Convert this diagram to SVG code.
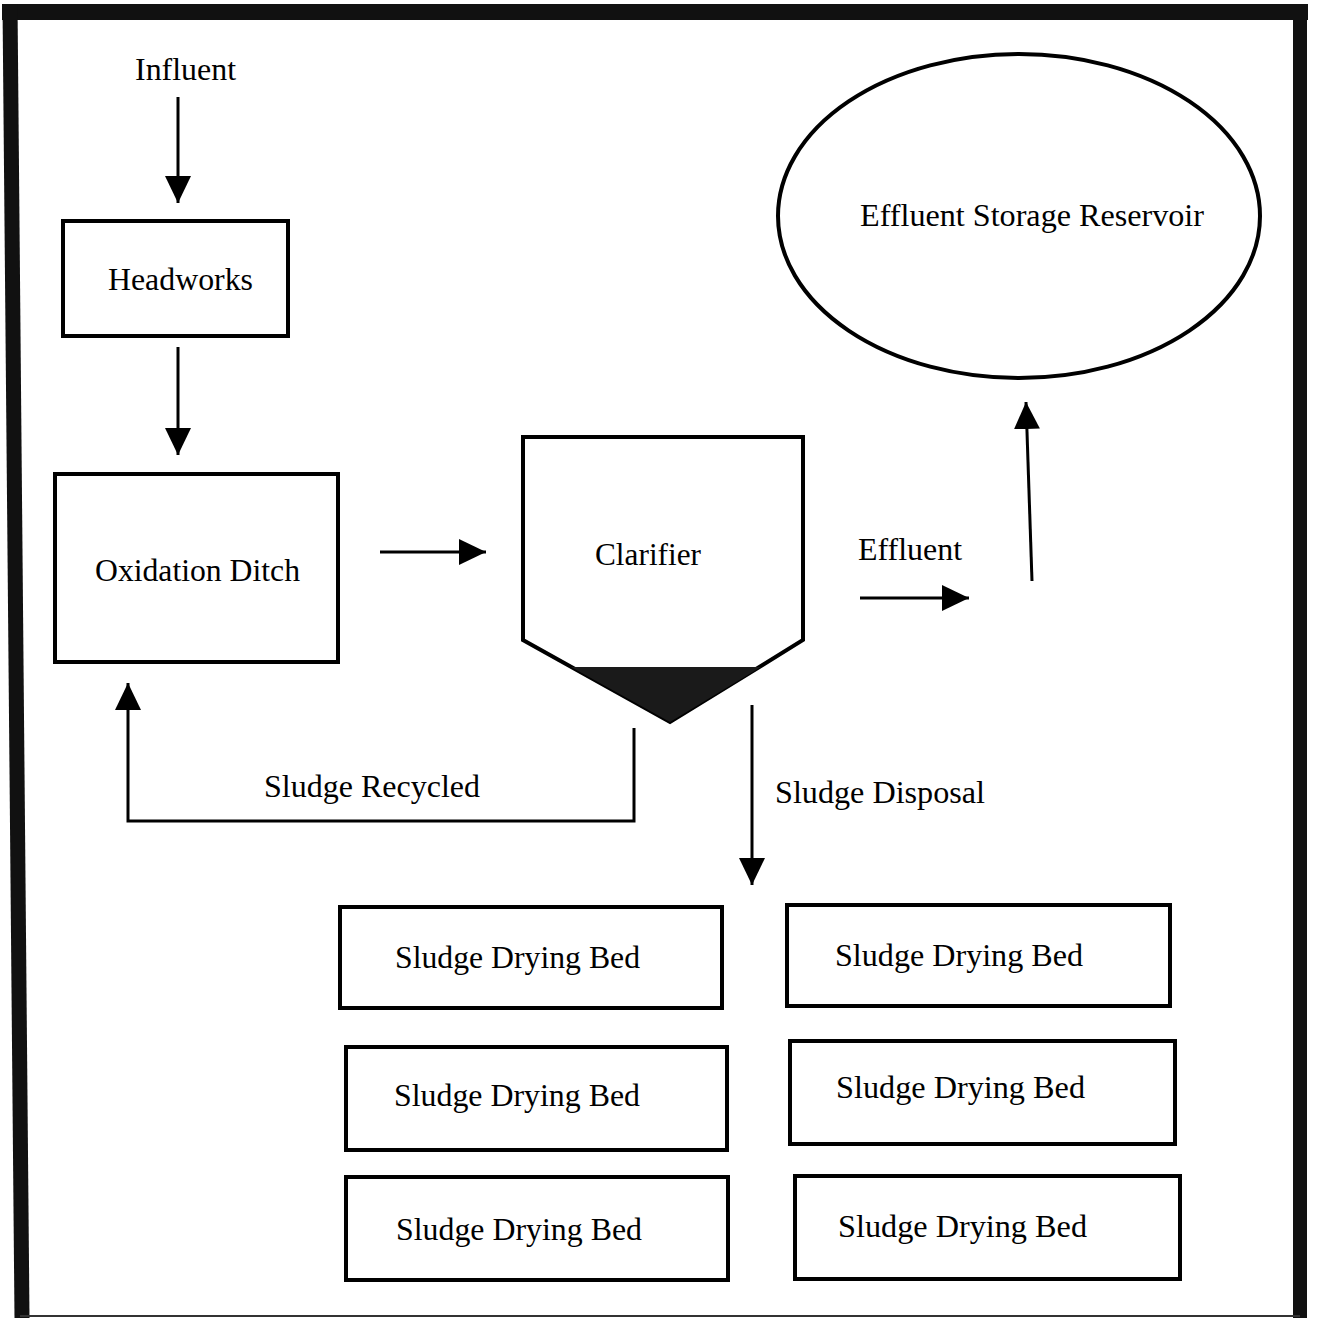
<svg xmlns="http://www.w3.org/2000/svg" width="1328" height="1318" viewBox="0 0 1328 1318">
<defs>
<marker id="ah" markerUnits="userSpaceOnUse" markerWidth="27" markerHeight="26" refX="27" refY="13" orient="auto">
<path d="M0,0 L27,13 L0,26 z" fill="#000"/>
</marker>
<style>
.box{fill:#fff;stroke:#000;stroke-width:4}
.t{font-family:"Liberation Serif","Times New Roman",serif;font-size:32px;fill:#000}
.c{fill:none;stroke:#000;stroke-width:3}
</style>
</defs>
<rect width="1328" height="1318" fill="#fff"/>
<g id="frame">
<path d="M2,12 H1308" stroke="#111" stroke-width="16" fill="none"/>
<path d="M10,4 L22,1318" stroke="#111" stroke-width="15" fill="none"/>
<path d="M1300,4 V1318" stroke="#111" stroke-width="14" fill="none"/>
<path d="M20,1316 H1300" stroke="#333" stroke-width="2" fill="none"/>
</g>
<g id="connectors">
<path class="c" d="M178,97 V203" marker-end="url(#ah)"/>
<path class="c" d="M178,347 V455" marker-end="url(#ah)"/>
<path class="c" d="M380,552 H486" marker-end="url(#ah)"/>
<path class="c" d="M860,598 H969" marker-end="url(#ah)"/>
<path class="c" d="M1032,581 L1026,402" marker-end="url(#ah)"/>
<path class="c" d="M752,705 V885" marker-end="url(#ah)"/>
<path class="c" d="M634,728 V821 H128 V683" marker-end="url(#ah)"/>
</g>
<g id="influent">
<text class="t" x="135" y="80" textLength="101" lengthAdjust="spacingAndGlyphs">Influent</text>
</g>
<g id="headworks">
<rect class="box" x="63" y="221" width="225" height="115"/>
<text class="t" x="108" y="290" textLength="145" lengthAdjust="spacingAndGlyphs">Headworks</text>
</g>
<g id="oxidation-ditch">
<rect class="box" x="55" y="474" width="283" height="188"/>
<text class="t" x="95" y="581" textLength="205" lengthAdjust="spacingAndGlyphs">Oxidation Ditch</text>
</g>
<g id="clarifier">
<path class="box" d="M523,437 H803 V640 L670,722 L523,640 Z"/>
<path d="M571,667 H761 L670,722 Z" fill="#1a1a1a"/>
<text class="t" x="595" y="565" textLength="106" lengthAdjust="spacingAndGlyphs">Clarifier</text>
</g>
<g id="effluent-label">
<text class="t" x="858" y="560" textLength="104" lengthAdjust="spacingAndGlyphs">Effluent</text>
</g>
<g id="reservoir">
<ellipse cx="1019" cy="216" rx="241" ry="162" fill="#fff" stroke="#000" stroke-width="4"/>
<text class="t" x="860" y="226" textLength="344" lengthAdjust="spacingAndGlyphs">Effluent Storage Reservoir</text>
</g>
<g id="sludge-recycled-label">
<text class="t" x="264" y="797" textLength="216" lengthAdjust="spacingAndGlyphs">Sludge Recycled</text>
</g>
<g id="sludge-disposal-label">
<text class="t" x="775" y="803" textLength="210" lengthAdjust="spacingAndGlyphs">Sludge Disposal</text>
</g>
<g id="bed1">
<rect class="box" x="340" y="907" width="382" height="101"/>
<text class="t" x="395" y="968" textLength="245" lengthAdjust="spacingAndGlyphs">Sludge Drying Bed</text>
</g>
<g id="bed2">
<rect class="box" x="787" y="905" width="383" height="101"/>
<text class="t" x="835" y="966" textLength="248" lengthAdjust="spacingAndGlyphs">Sludge Drying Bed</text>
</g>
<g id="bed3">
<rect class="box" x="346" y="1047" width="381" height="103"/>
<text class="t" x="394" y="1106" textLength="246" lengthAdjust="spacingAndGlyphs">Sludge Drying Bed</text>
</g>
<g id="bed4">
<rect class="box" x="790" y="1041" width="385" height="103"/>
<text class="t" x="836" y="1098" textLength="249" lengthAdjust="spacingAndGlyphs">Sludge Drying Bed</text>
</g>
<g id="bed5">
<rect class="box" x="346" y="1177" width="382" height="103"/>
<text class="t" x="396" y="1240" textLength="246" lengthAdjust="spacingAndGlyphs">Sludge Drying Bed</text>
</g>
<g id="bed6">
<rect class="box" x="795" y="1176" width="385" height="103"/>
<text class="t" x="838" y="1237" textLength="249" lengthAdjust="spacingAndGlyphs">Sludge Drying Bed</text>
</g>
</svg>
